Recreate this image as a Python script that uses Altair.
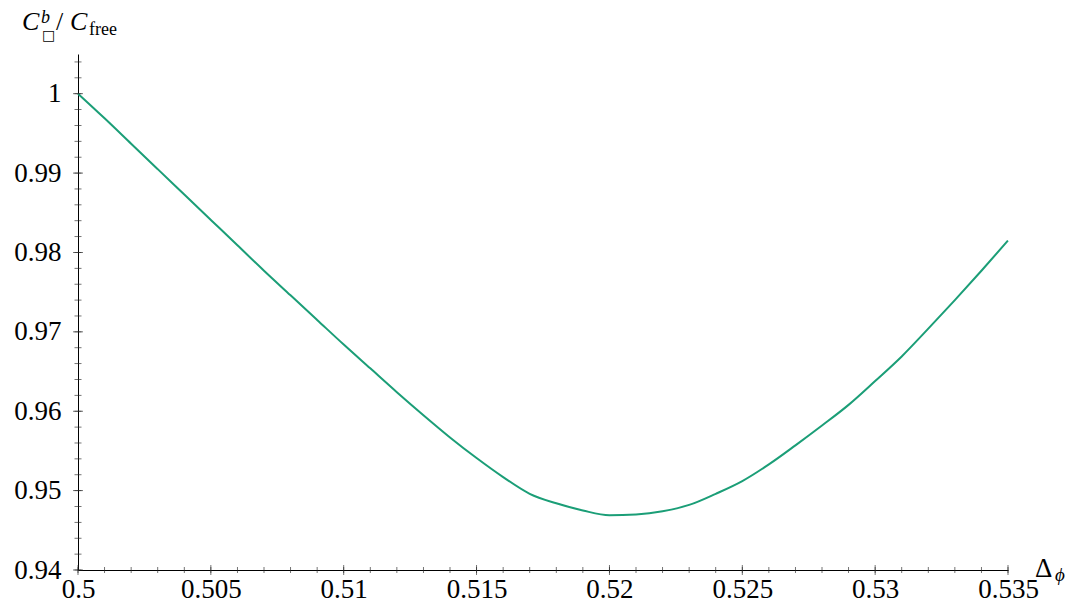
import altair as alt
import pandas as pd

# Data
delta_phi = [0.500, 0.501, 0.502, 0.503, 0.504, 0.505, 0.506, 0.507, 0.508, 0.509,
             0.510, 0.511, 0.512, 0.513, 0.514, 0.515, 0.516, 0.517, 0.518, 0.519,
             0.520, 0.521, 0.522, 0.523, 0.524, 0.525, 0.526, 0.527, 0.528, 0.529,
             0.530, 0.531, 0.532, 0.533, 0.534, 0.535]
ratio = [1.0000, 0.9969, 0.9937, 0.9905, 0.9873, 0.9841, 0.9809, 0.9777, 0.9746, 0.9715,
         0.9684, 0.9654, 0.9624, 0.9595, 0.9567, 0.9541, 0.9517, 0.9496, 0.9484, 0.9475,
         0.9469, 0.9470, 0.9474, 0.9482, 0.9496, 0.9512, 0.9533, 0.9557, 0.9582, 0.9608,
         0.9638, 0.9669, 0.9704, 0.9740, 0.9777, 0.9815]

x_major = [0.5, 0.505, 0.51, 0.515, 0.52, 0.525, 0.53, 0.535]
y_major = [0.94, 0.95, 0.96, 0.97, 0.98, 0.99, 1.0]
x_minor = [round(0.5 + 0.001 * i, 3) for i in range(36)]
y_minor = [round(0.94 + 0.002 * i, 3) for i in range(33)]

FONT = "Liberation Serif"
W, H = 930, 516

xs = alt.Scale(domain=[0.5, 0.535], nice=False, zero=False)
ys = alt.Scale(domain=[0.94, 1.005], nice=False, zero=False)

xa = alt.Axis(values=x_major, format=".3~f", title=None, grid=False,
              ticks=False, domainColor="black", domainWidth=1,
              labelFont=FONT, labelFontSize=27, labelColor="black",
              labelPadding=6, labelFlush=False)
ya = alt.Axis(values=y_major, format=".2~f", title=None, grid=False,
              ticks=False, domainColor="black", domainWidth=1,
              labelFont=FONT, labelFontSize=27, labelColor="black",
              labelPadding=17, labelFlush=False)

line_df = pd.DataFrame({"x": delta_phi, "y": ratio})

line = alt.Chart(line_df).mark_line(color="#1b9e77", strokeWidth=2,
                                    interpolate="monotone").encode(
    x=alt.X("x:Q", scale=xs, axis=xa),
    y=alt.Y("y:Q", scale=ys, axis=ya),
)

def xticks(vals, size):
    df = pd.DataFrame({"x": vals, "y": [0.94] * len(vals)})
    return alt.Chart(df).mark_tick(orient="vertical", size=size, thickness=0.9,
                                   color="#222222").encode(
        x=alt.X("x:Q", scale=xs, axis=xa), y=alt.Y("y:Q", scale=ys, axis=ya))

def yticks(vals, size):
    df = pd.DataFrame({"x": [0.5] * len(vals), "y": vals})
    return alt.Chart(df).mark_tick(orient="horizontal", size=size, thickness=0.9,
                                   color="#222222").encode(
        x=alt.X("x:Q", scale=xs, axis=xa), y=alt.Y("y:Q", scale=ys, axis=ya))

one = pd.DataFrame({"k": [0]})

def label(txt, px, py, size, italic=False, font=FONT):
    return alt.Chart(one).mark_text(
        align="left", baseline="alphabetic", font=font, fontSize=size,
        fontStyle="italic" if italic else "normal", color="black"
    ).encode(x=alt.value(px), y=alt.value(py), text=alt.value(txt))

titles = [
    label("C", -56, -24, 26, italic=True),
    label("b", -37, -31, 18, italic=True),
    label("\u25a1", -36, -14, 14, font="DejaVu Sans"),
    label("/", -22, -24, 26),
    label("C", -8, -24, 26, italic=True),
    label("free", 11, -19, 18),
    label("\u0394", 957, 523, 27),
    label("\u03d5", 977, 527, 19, italic=True),
]

chart = alt.layer(
    line,
    xticks(x_minor, 6), xticks(x_major, 10),
    yticks(y_minor, 7), yticks(y_major, 10),
    *titles,
).properties(
    width=W, height=H,
    autosize=alt.AutoSizeParams(type="none"),
    padding={"left": 70, "top": 46, "right": 62, "bottom": 36},
).configure_view(stroke=None)

chart.save("out.html", embed_options={"renderer": "svg", "actions": False})
